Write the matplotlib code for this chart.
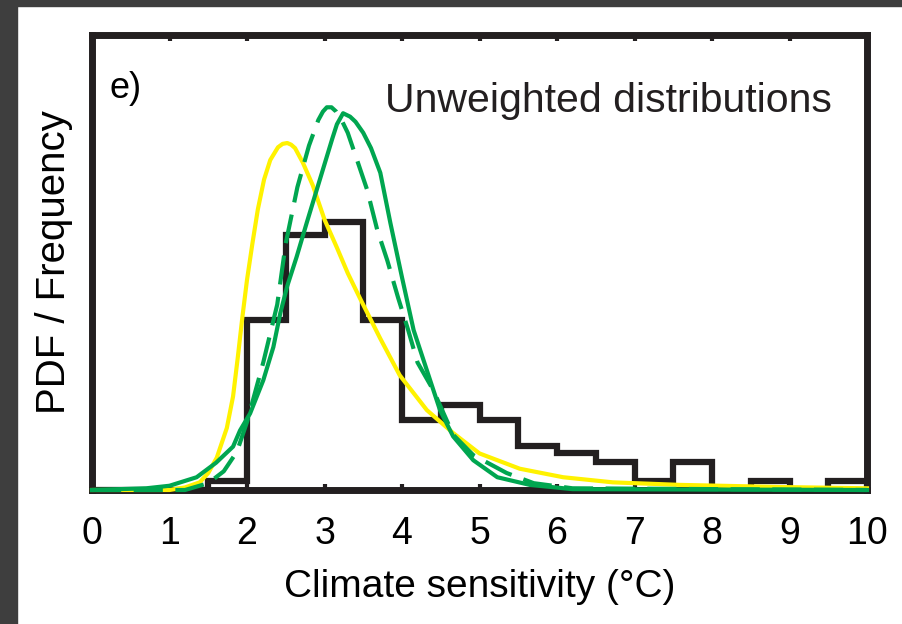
import matplotlib
matplotlib.use("Agg")
import matplotlib.pyplot as plt
from matplotlib.patches import Rectangle
import numpy as np

plt.rcParams['font.family'] = ['Liberation Sans', 'DejaVu Sans']

# histogram of climate sensitivity (bin edges every 0.5 degC)
bin_edges = np.arange(0, 10.5, 0.5)
counts = [0, 0, 0, 1, 20, 30, 31.5, 20, 8.2, 10, 8.2, 5.2, 4.3, 3.3, 1, 3.3, 0, 1, 0, 1]

# yellow PDF
yellow_x = [0, 1.0, 1.2, 1.39, 1.5, 1.61, 1.74, 1.82, 1.88, 1.94, 2.0, 2.07, 2.14, 2.22, 2.3,
            2.4, 2.46, 2.52, 2.57, 2.62, 2.72, 2.85, 3.0, 3.16, 3.3, 3.46, 3.72, 3.97, 4.32,
            4.66, 5.0, 5.52, 6.08, 6.72, 7.59, 8.88, 10]
yellow_y = [0, 0, 0.3, 0.9, 2, 3.8, 7.3, 11, 15.5, 20.3, 24.7, 29, 33, 36.5, 38.8,
            40.3, 40.7, 40.8, 40.6, 40.2, 38.5, 35.8, 31.8, 28.5, 25.5, 22.5, 17.8, 13.5, 9.4,
            6.7, 4.3, 2.5, 1.5, 0.9, 0.6, 0.35, 0.2]

# green solid PDF
green_x = [0, 0.7, 1.0, 1.35, 1.6, 1.82, 1.91, 2.04, 2.21, 2.34, 2.43, 2.52, 2.64, 2.77, 2.9,
           3.03, 3.1, 3.16, 3.24, 3.33, 3.4, 3.5, 3.6, 3.72, 3.85, 4.0, 4.15, 4.32, 4.49,
           4.66, 4.92, 5.23, 5.65, 6.2, 10]
green_y = [0, 0.2, 0.5, 1.5, 3.2, 5.1, 7, 9, 12.9, 16.8, 20.8, 24, 27.4, 31.4, 35.3,
           39.2, 41.3, 43, 44.3, 43.9, 43.3, 42, 40.2, 37.3, 31.4, 25, 18.8, 14.1, 9.4,
           6.3, 3.5, 1.5, 0.6, 0.1, 0]

# green dashed PDF
dashed_x = [0, 1.2, 1.5, 1.7, 1.87, 2.0, 2.21, 2.39, 2.5, 2.65, 2.8, 2.92, 2.98, 3.03, 3.09,
            3.15, 3.22, 3.3, 3.42, 3.55, 3.68, 3.81, 3.95, 4.08, 4.2, 4.4, 4.66, 4.92, 5.35,
            5.7, 6.2, 10]
dashed_y = [0, 0, 0.8, 2.2, 4.5, 8, 15, 21.8, 29, 35.6, 40.5, 43.5, 44.5, 45, 45,
            44.5, 43.5, 42, 38.8, 35.3, 30.6, 27, 22.6, 18.8, 15, 11.8, 6.5, 4.1, 2,
            0.8, 0.2, 0]

xticks = list(range(0, 11))

black = '#231f20'
yellow = '#fff200'
green = '#00a650'

fig = plt.figure(figsize=(9.03, 6.24), dpi=100)
fig.patch.set_facecolor('white')
# dark frame at left and top of the scanned panel
fig.patches.append(Rectangle((0, 0), 17 / 903, 1, transform=fig.transFigure,
                             color='#3e3e3e', zorder=0))
fig.patches.append(Rectangle((0, 1 - 6 / 624), 1, 6 / 624, transform=fig.transFigure,
                             color='#3e3e3e', zorder=0))

ax = fig.add_axes([92 / 903, 1 - 490 / 624, 775 / 903, 455 / 624])

ax.stairs(counts, bin_edges, color=black, lw=4.5, zorder=2)
ax.plot(yellow_x, yellow_y, color=yellow, lw=3, zorder=4, clip_on=False)
ax.plot(dashed_x, dashed_y, color=green, lw=3, ls=(0, (7, 3)), zorder=5, clip_on=False)
ax.plot(green_x, green_y, color=green, lw=3, zorder=6, clip_on=False)

ax.set_xlim(0, 10)
ax.set_ylim(0, 53.5)
ax.set_xticks(xticks)
ax.set_yticks([])
ax.tick_params(axis='x', direction='in', length=4, width=3, color=black,
               top=True, labelsize=27, pad=19)
for s in ax.spines.values():
    s.set_linewidth(5)
    s.set_color(black)
    s.set_zorder(3)

ax.set_xlabel('Climate sensitivity (°C)', fontsize=28, labelpad=12)
ax.set_ylabel('PDF / Frequency', fontsize=29, labelpad=14)

ax.text(0.023, 0.92, 'e)', transform=ax.transAxes, fontsize=26, va='top', ha='left')
ax.text(0.378, 0.83, 'Unweighted distributions', transform=ax.transAxes, fontsize=29.5,
        va='baseline', ha='left', color=black)

fig.savefig('out.png', dpi=100)
